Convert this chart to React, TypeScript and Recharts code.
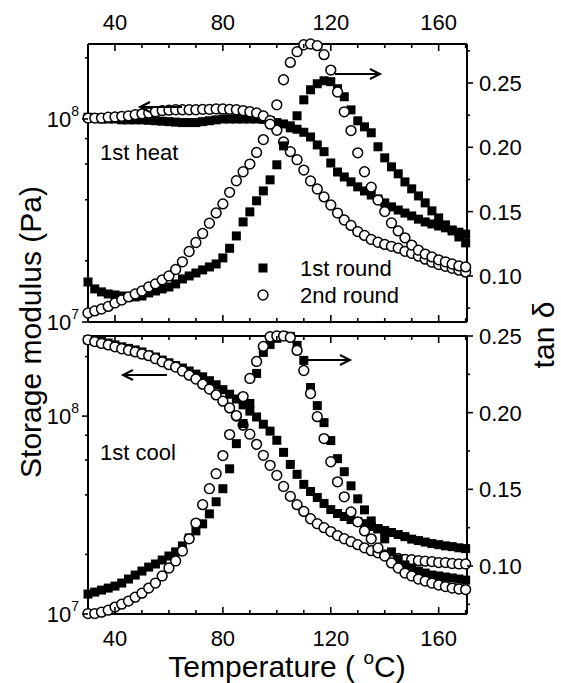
import { ScatterChart, Scatter, XAxis, YAxis } from 'recharts';

// temperature grid (°C), shared by all eight series
const temps = [
  30, 32.5, 35, 37.5, 40, 42.5, 45, 47.5, 50, 52.5,
  55, 57.5, 60, 62.5, 65, 67.5, 70, 72.5, 75, 77.5,
  80, 82.5, 85, 87.5, 90, 92.5, 95, 97.5, 100, 102.5,
  105, 107.5, 110, 112.5, 115, 117.5, 120, 122.5, 125, 127.5,
  130, 132.5, 135, 137.5, 140, 142.5, 145, 147.5, 150, 152.5,
  155, 157.5, 160, 162.5, 165, 167.5, 170,
];

// 1st heat: storage modulus (Pa)
const heatMod1 = [
  1.02e8, 1.01e8, 1.0e8, 1.0e8, 1.0e8, 9.9e7, 9.9e7, 9.9e7, 9.9e7, 9.85e7,
  9.8e7, 9.75e7, 9.7e7, 9.65e7, 9.6e7, 9.6e7, 9.6e7, 9.7e7, 9.8e7, 9.9e7,
  1.0e8, 1.0e8, 1.0e8, 1.0e8, 1.0e8, 1.0e8, 9.95e7, 9.8e7, 9.6e7, 9.45e7,
  9.25e7, 8.9e7, 8.6e7, 8.15e7, 7.45e7, 6.9e7, 6.07e7, 5.48e7, 5.18e7, 4.9e7,
  4.63e7, 4.42e7, 4.22e7, 4.04e7, 3.86e7, 3.69e7, 3.56e7, 3.44e7, 3.33e7, 3.21e7,
  3.11e7, 3.04e7, 2.97e7, 2.91e7, 2.84e7, 2.77e7, 2.71e7,
];
const heatMod2 = [
  1.01e8, 1.01e8, 1.01e8, 1.02e8, 1.023e8, 1.03e8, 1.035e8, 1.05e8, 1.06e8, 1.07e8,
  1.085e8, 1.1e8, 1.105e8, 1.11e8, 1.11e8, 1.11e8, 1.11e8, 1.115e8, 1.115e8, 1.12e8,
  1.12e8, 1.115e8, 1.11e8, 1.1e8, 1.085e8, 1.07e8, 1.035e8, 9.8e7, 8.8e7, 7.7e7,
  6.9e7, 6.3e7, 5.6e7, 4.95e7, 4.52e7, 4.13e7, 3.77e7, 3.44e7, 3.18e7, 2.99e7,
  2.79e7, 2.67e7, 2.55e7, 2.47e7, 2.41e7, 2.36e7, 2.31e7, 2.23e7, 2.18e7, 2.11e7,
  2.04e7, 1.97e7, 1.92e7, 1.88e7, 1.84e7, 1.8e7, 1.76e7,
];
// 1st heat: tan delta
const heatTan1 = [
  0.0953, 0.0899, 0.0876, 0.086, 0.0852, 0.0844, 0.0837, 0.0837, 0.0844, 0.0868,
  0.0883, 0.0899, 0.0914, 0.0938, 0.0977, 0.1, 0.1023, 0.1047, 0.107, 0.1093,
  0.114, 0.1215, 0.1311, 0.142, 0.1498, 0.1584, 0.1661, 0.1747, 0.1864, 0.2011,
  0.2151, 0.2245, 0.2369, 0.2447, 0.2494, 0.2517, 0.251, 0.2455, 0.2393, 0.2291,
  0.2206, 0.2159, 0.2113, 0.2004, 0.1918, 0.1848, 0.1794, 0.1731, 0.1677, 0.1622,
  0.1568, 0.1506, 0.1451, 0.1397, 0.135, 0.1303, 0.1257,
];
const heatTan2 = [
  0.0712, 0.0728, 0.0743, 0.0763, 0.079, 0.0813, 0.0837, 0.086, 0.0883, 0.0914,
  0.0938, 0.0969, 0.1, 0.105, 0.111, 0.119, 0.126, 0.133, 0.141, 0.149,
  0.156, 0.165, 0.174, 0.181, 0.187, 0.196, 0.206, 0.218, 0.233, 0.2525,
  0.266, 0.2743, 0.2797, 0.2803, 0.279, 0.272, 0.26, 0.243, 0.2276, 0.213,
  0.1957, 0.181, 0.169, 0.159, 0.15, 0.1412, 0.135, 0.1296, 0.124, 0.12,
  0.117, 0.1148, 0.1125, 0.111, 0.1093, 0.1078, 0.107,
];

// 1st cool: storage modulus (Pa)
const coolMod1 = [
  2.43e8, 2.4e8, 2.38e8, 2.34e8, 2.29e8, 2.24e8, 2.2e8, 2.16e8, 2.11e8, 2.04e8,
  1.99e8, 1.92e8, 1.86e8, 1.8e8, 1.75e8, 1.69e8, 1.63e8, 1.58e8, 1.51e8, 1.44e8,
  1.36e8, 1.29e8, 1.22e8, 1.14e8, 1.06e8, 9.9e7, 9.1e7, 8.4e7, 7.55e7, 6.56e7,
  5.7e7, 5.08e7, 4.52e7, 4.16e7, 3.88e7, 3.62e7, 3.37e7, 3.22e7, 3.11e7, 3.0e7,
  2.93e7, 2.86e7, 2.77e7, 2.7e7, 2.64e7, 2.58e7, 2.52e7, 2.46e7, 2.39e7, 2.35e7,
  2.31e7, 2.27e7, 2.24e7, 2.21e7, 2.19e7, 2.16e7, 2.14e7,
];
const coolMod2 = [
  2.43e8, 2.38e8, 2.33e8, 2.29e8, 2.24e8, 2.19e8, 2.15e8, 2.11e8, 2.06e8, 2.02e8,
  1.95e8, 1.88e8, 1.82e8, 1.77e8, 1.69e8, 1.61e8, 1.54e8, 1.45e8, 1.37e8, 1.28e8,
  1.19e8, 1.1e8, 1.0e8, 9.0e7, 8.1e7, 7.2e7, 6.34e7, 5.64e7, 5.02e7, 4.41e7,
  3.93e7, 3.57e7, 3.3e7, 3.03e7, 2.86e7, 2.73e7, 2.61e7, 2.49e7, 2.4e7, 2.32e7,
  2.24e7, 2.16e7, 2.09e7, 2.04e7, 1.99e7, 1.95e7, 1.91e7, 1.89e7, 1.88e7, 1.86e7,
  1.85e7, 1.84e7, 1.82e7, 1.82e7, 1.8e7, 1.79e7, 1.79e7,
];
// 1st cool: tan delta
const coolTan1 = [
  0.0817, 0.083, 0.0843, 0.0856, 0.0869, 0.0889, 0.0915, 0.0941, 0.0967, 0.0993,
  0.1013, 0.1039, 0.1065, 0.1092, 0.1131, 0.1183, 0.1229, 0.1275, 0.134, 0.1419,
  0.1504, 0.1634, 0.1798, 0.1929, 0.206, 0.2256, 0.2393, 0.2445, 0.2485, 0.25,
  0.2498, 0.2439, 0.2341, 0.2164, 0.2046, 0.1935, 0.1818, 0.17, 0.1615, 0.1523,
  0.1438, 0.1366, 0.1294, 0.1242, 0.1177, 0.1092, 0.1046, 0.1007, 0.0987, 0.0967,
  0.0954, 0.0941, 0.0935, 0.0928, 0.0922, 0.0915, 0.0908,
];
const coolTan2 = [
  0.069, 0.069, 0.0699, 0.0712, 0.0732, 0.0751, 0.0771, 0.0797, 0.0823, 0.0856,
  0.0889, 0.0935, 0.0987, 0.1033, 0.1098, 0.1177, 0.128, 0.14, 0.1504, 0.1602,
  0.172, 0.1857, 0.1981, 0.2105, 0.2223, 0.2334, 0.2432, 0.2495, 0.25, 0.25,
  0.2491, 0.2406, 0.2275, 0.2125, 0.1974, 0.1831, 0.168, 0.1549, 0.1451, 0.1353,
  0.1288, 0.1229, 0.1177, 0.1118, 0.1065, 0.102, 0.0987, 0.0954, 0.0935, 0.0915,
  0.0902, 0.0889, 0.0876, 0.0866, 0.0856, 0.085, 0.0846,
];

// axis ticks
const xTicks = [40, 50, 60, 70, 80, 90, 100, 110, 120, 130, 140, 150, 160, 170];
const modTicks = [1e7, 2e7, 4e7, 6e7, 8e7, 1e8, 2e8];
const tanTicksTop = [0.075, 0.1, 0.125, 0.15, 0.175, 0.2, 0.225, 0.25, 0.275];
const tanTicksBottom = [0.075, 0.1, 0.125, 0.15, 0.175, 0.2, 0.225, 0.25];

const FONT = "'Liberation Sans', Arial, Helvetica, sans-serif";
const W = 561;
const H = 683;
const PLOT_LEFT = 88;
const PLOT_RIGHT = 467;

const toPoints = (vals: number[]) => temps.map((t, i) => ({ t, v: vals[i] }));

const squareShape = (p: any) => (
  <rect x={p.cx - 4.5} y={p.cy - 4.5} width={9} height={9} fill="#000" />
);
const circleShape = (p: any) => (
  <circle cx={p.cx} cy={p.cy} r={4.9} fill="#fff" stroke="#000" strokeWidth={1.5} />
);

// x ticks point into the plot; labels only on the outer edges
function xTick(edge: number, dir: number, labelY: number | null) {
  return (p: any) => {
    const x = p.payload?.coordinate ?? p.x;
    const v = p.payload.value;
    const major = v % 40 === 0;
    return (
      <g>
        <line x1={x} x2={x} y1={edge} y2={edge + dir * (major ? 7 : 4)} stroke="#000" strokeWidth={1.6} />
        {major && labelY !== null && (
          <text x={x} y={labelY} textAnchor="middle" fontSize={22} fontFamily={FONT} fill="#000">
            {v}
          </text>
        )}
      </g>
    );
  };
}

function modTick(p: any) {
  const y = p.payload?.coordinate ?? p.y;
  const v = p.payload.value;
  const exp = Math.round(Math.log10(v));
  const major = Math.abs(v - Math.pow(10, exp)) < 1;
  return (
    <g>
      <line x1={PLOT_LEFT} x2={PLOT_LEFT - (major ? 6 : 3)} y1={y} y2={y} stroke="#000" strokeWidth={1.6} />
      {major && (
        <text x={79} y={y + 8} textAnchor="end" fontSize={22} fontFamily={FONT} fill="#000">
          10<tspan fontSize={14} dy={-11}>{exp}</tspan>
        </text>
      )}
    </g>
  );
}

function tanTick(p: any) {
  const y = p.payload?.coordinate ?? p.y;
  const v = p.payload.value;
  const major = Math.round(v * 1000) % 50 === 0;
  return (
    <g>
      <line x1={PLOT_RIGHT} x2={PLOT_RIGHT + (major ? 6 : 3)} y1={y} y2={y} stroke="#000" strokeWidth={1.6} />
      {major && (
        <text x={PLOT_RIGHT + 12} y={y + 8} textAnchor="start" fontSize={22} fontFamily={FONT} fill="#000">
          {v.toFixed(2)}
        </text>
      )}
    </g>
  );
}

const axisLine = { stroke: '#000', strokeWidth: 2 };

interface PanelProps {
  mod1: number[];
  mod2: number[];
  tan1: number[];
  tan2: number[];
  plotTop: number;
  plotBottom: number;
  labelsOnTop: boolean;
  modMax: number;
  tanDomain: [number, number];
  tanTicks: number[];
}

// each panel is a full-page chart; margins put its plot area in place
function Panel(props: PanelProps) {
  const { mod1, mod2, tan1, tan2, plotTop, plotBottom, labelsOnTop } = props;
  const topH = 4;
  const botH = 4;
  const margin = {
    top: plotTop - topH,
    bottom: H - plotBottom - botH,
    left: PLOT_LEFT - 60,
    right: W - PLOT_RIGHT - 60,
  };
  return (
    <ScatterChart width={W} height={H} margin={margin}>
      <XAxis
        xAxisId="top"
        orientation="top"
        dataKey="t"
        type="number"
        domain={[30, 170.5]}
        allowDataOverflow
        ticks={xTicks}
        interval={0}
        height={topH}
        axisLine={axisLine}
        tickLine={false}
        tick={xTick(plotTop, 1, labelsOnTop ? plotTop - 14 : null)}
      />
      <XAxis
        xAxisId="bot"
        orientation="bottom"
        dataKey="t"
        type="number"
        domain={[30, 170.5]}
        ticks={xTicks}
        interval={0}
        height={botH}
        axisLine={axisLine}
        tickLine={false}
        tick={xTick(plotBottom, -1, labelsOnTop ? null : plotBottom + 32)}
      />
      <YAxis
        yAxisId="mod"
        orientation="left"
        dataKey="v"
        type="number"
        scale="log"
        domain={[1e7, props.modMax]}
        ticks={modTicks}
        interval={0}
        width={60}
        axisLine={axisLine}
        tickLine={false}
        tick={modTick}
      />
      <YAxis
        yAxisId="tan"
        orientation="right"
        dataKey="v"
        type="number"
        domain={props.tanDomain}
        ticks={props.tanTicks}
        interval={0}
        width={60}
        axisLine={axisLine}
        tickLine={false}
        tick={tanTick}
      />
      <Scatter data={toPoints(mod1)} xAxisId="bot" yAxisId="mod" shape={squareShape} isAnimationActive={false} />
      <Scatter data={toPoints(mod2)} xAxisId="bot" yAxisId="mod" shape={circleShape} isAnimationActive={false} />
      <Scatter data={toPoints(tan1)} xAxisId="bot" yAxisId="tan" shape={squareShape} isAnimationActive={false} />
      <Scatter data={toPoints(tan2)} xAxisId="bot" yAxisId="tan" shape={circleShape} isAnimationActive={false} />
    </ScatterChart>
  );
}

function Arrow({ x1, x2, y }: { x1: number; x2: number; y: number }) {
  // head sits at x2
  const d = x2 > x1 ? -1 : 1;
  return (
    <g stroke="#000" strokeWidth={2} fill="none">
      <line x1={x1} x2={x2} y1={y} y2={y} />
      <polyline points={`${x2 + d * 10},${y - 5} ${x2},${y} ${x2 + d * 10},${y + 5}`} />
    </g>
  );
}

export default function App() {
  const txt = { fontFamily: FONT, fill: '#000' };
  return (
    <div style={{ position: 'absolute', left: 0, top: 0, width: W, height: H, background: '#fff' }}>
      <div style={{ position: 'absolute', left: 0, top: 0 }}>
        <Panel
          mod1={heatMod1}
          mod2={heatMod2}
          tan1={heatTan1}
          tan2={heatTan2}
          plotTop={44}
          plotBottom={322}
          labelsOnTop
          modMax={2.34e8}
          tanDomain={[0.0642, 0.2803]}
          tanTicks={tanTicksTop}
        />
      </div>
      <div style={{ position: 'absolute', left: 0, top: 0 }}>
        <Panel
          mod1={coolMod1}
          mod2={coolMod2}
          tan1={coolTan1}
          tan2={coolTan2}
          plotTop={336}
          plotBottom={614}
          labelsOnTop={false}
          modMax={2.54e8}
          tanDomain={[0.0687, 0.25]}
          tanTicks={tanTicksBottom}
        />
      </div>
      <svg width={W} height={H} style={{ position: 'absolute', left: 0, top: 0, pointerEvents: 'none' }}>
        <text transform="translate(30,332) rotate(-90)" textAnchor="middle" dominantBaseline="central" fontSize={30} {...txt}>
          Storage modulus (Pa)
        </text>
        <text transform="translate(543,335) rotate(-90)" textAnchor="middle" dominantBaseline="central" fontSize={30} {...txt}>
          tan δ
        </text>
        <text x={287} y={677} textAnchor="middle" fontSize={30} {...txt}>
          Temperature ( <tspan fontSize={19} dy={-13}>o</tspan>
          <tspan dy={13}>C)</tspan>
        </text>
        <text x={100} y={160} fontSize={22} {...txt}>1st heat</text>
        <text x={100} y={460} fontSize={22} {...txt}>1st cool</text>

        <rect x={258.5} y={263.5} width={9} height={9} fill="#000" />
        <text x={300} y={276} fontSize={22} {...txt}>1st round</text>
        <circle cx={263} cy={295} r={4.9} fill="#fff" stroke="#000" strokeWidth={1.5} />
        <text x={300} y={303} fontSize={22} {...txt}>2nd round</text>

        <Arrow x1={182} x2={140} y={107} />
        <Arrow x1={335} x2={380} y={74} />
        <Arrow x1={167} x2={123} y={375} />
        <Arrow x1={305} x2={350} y={360} />
      </svg>
    </div>
  );
}
